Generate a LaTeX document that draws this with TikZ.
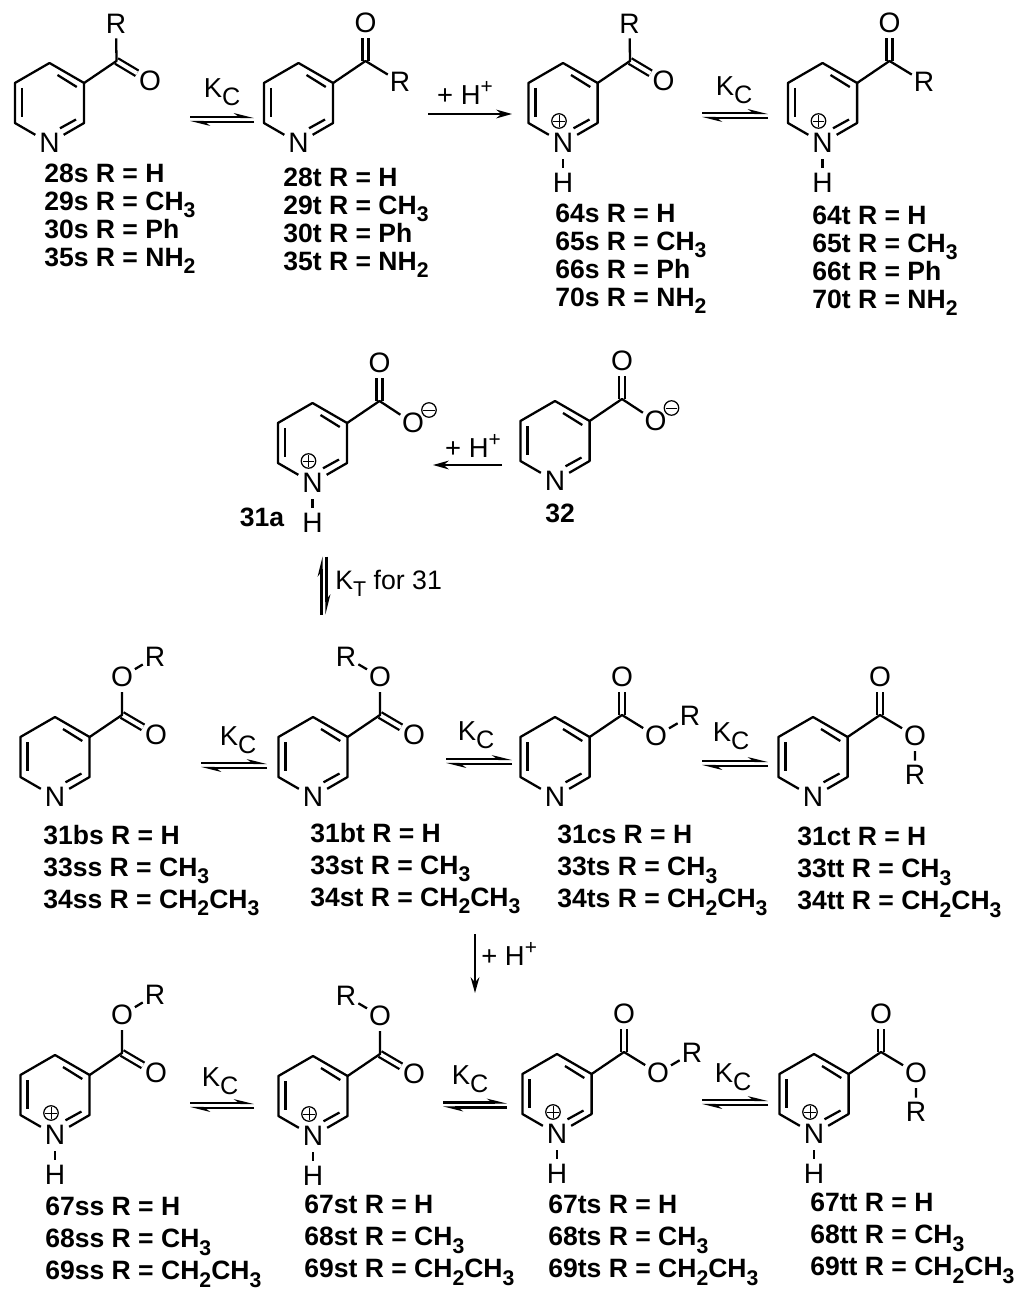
\documentclass[tikz,border=0pt]{standalone}
\usepackage{fontspec}
\setmainfont{Liberation Sans}
\usetikzlibrary{arrows.meta}
\newcommand{\down}[1]{\raisebox{-.27em}{\scalebox{.8}{#1}}}
\newcommand{\downk}[1]{\raisebox{-.3em}{\scalebox{.92}{#1}}}
\newcommand{\up}[1]{\raisebox{.42em}{\scalebox{.76}{#1}}}
\tikzset{bond/.style={line width=1.3pt, line join=round}}
\tikzset{dbl/.style={line width=1.3pt, double, double distance=2.2pt}}
\tikzset{atom/.style={circle, inner sep=0pt, minimum size=.48cm, font=\fontsize{16}{18}\selectfont}}
\tikzset{atomn/.style={atom, minimum size=.64cm}}
\tikzset{atomh/.style={atom, minimum size=.6cm}}
\tikzset{txt/.style={inner sep=0pt, font=\fontsize{15.6}{18}\selectfont}}
\tikzset{txts/.style={inner sep=0pt, font=\fontsize{15.2}{18}\selectfont}}
\tikzset{lbl/.style={inner sep=0pt, anchor=north west, align=left, font=\fontsize{15.1}{15.9}\selectfont\bfseries}}
\tikzset{lblw/.style={lbl, font=\fontsize{15.1}{18.2}\selectfont\bfseries}}
\tikzset{num/.style={inner sep=0pt, font=\fontsize{15.1}{16}\selectfont\bfseries}}
\tikzset{oa/.style={draw, circle, line width=.7pt, inner sep=0pt, minimum size=.29cm, append after command={
[line width=.7pt, shorten >=1.2pt, shorten <=1.2pt]
(\tikzlastnode.north) edge (\tikzlastnode.south)
(\tikzlastnode.east) edge (\tikzlastnode.west)
} } }
\tikzset{om/.style={draw, circle, line width=.7pt, inner sep=0pt, minimum size=.29cm, append after command={
[line width=.7pt, shorten >=1.2pt, shorten <=1.2pt]
(\tikzlastnode.east) edge (\tikzlastnode.west)
} } }
\tikzset{rxn/.style={line width=1.2pt, -{Stealth[length=9pt, width=5pt]}}}
\tikzset{half/.style={line width=1.2pt, -{Stealth[harpoon, length=9pt, width=4.4pt]}}}
% pyridine skeleton, N is drawn by the two pics below
\tikzset{pics/hex/.style={code={
	\coordinate (-c2) at (34.6,20);
	\coordinate (-c3) at (34.6,-20);
	\coordinate (-c4) at (0,-40);
	\coordinate (-c5) at (-34.6,-20);
	\coordinate (-c6) at (-34.6,20);
	\draw [bond] (-n) -- (-c2) -- (-c3) -- (-c4) -- (-c5) -- (-c6) -- (-n);
	\draw [bond] (-27.6,-15) -- (-27.6,14);
	\draw [bond] (8,-28) -- (27.3,-16);
	\draw [bond] (10.5,25.3) -- (26.5,16.5);
}}}
\tikzset{pics/pyr/.style={code={
	\node [atomn] (-n) at (0,40) {N};
	\pic {hex};
	\pic {#1};
}}}
\tikzset{pics/pyrh/.style={code={
	\node [atomn] (-n) at (0,40) {N};
	\node [atomh] (-h) at (0,80) {H};
	\node [oa] (-p) at (-4,18) {};
	\pic {hex};
	\draw [bond] (-n) -- (-h);
	\pic {#1};
}}}
% substituents at C3
\tikzset{pics/kets/.style={code={
	\coordinate (-c) at (67,-42);
	\node [atom] (-o) at (100.5,-22) {O};
	\node [atom] (-r) at (66.5,-79) {R};
	\draw [dbl] (-c) -- (-o);
	\draw [bond] (-c3) -- (-c) -- (-r);
}}}
\tikzset{pics/kett/.style={code={
	\coordinate (-c) at (67,-42);
	\node [atom] (-o) at (67,-80) {O};
	\node [atom] (-r) at (101.5,-21) {R};
	\draw [dbl] (-c) -- (-o);
	\draw [bond] (-c3) -- (-c) -- (-r);
}}}
\tikzset{pics/coo/.style={code={
	\coordinate (-c) at (67,-42);
	\node [atom] (-o) at (67,-80) {O};
	\node [atom] (-q) at (100.5,-20) {O};
	\node [om] (-m) at (116.5,-33) {};
	\draw [dbl] (-c) -- (-o);
	\draw [bond] (-c3) -- (-c) -- (-q);
}}}
\tikzset{pics/estss/.style={code={
	\coordinate (-c) at (67,-42);
	\node [atom] (-q) at (67,-80) {O};
	\node [atom] (-o) at (101,-22) {O};
	\node [atom] (-r) at (100,-100) {R};
	\draw [dbl] (-c) -- (-o);
	\draw [bond] (-c3) -- (-c) -- (-q) -- (-r);
}}}
\tikzset{pics/estst/.style={code={
	\coordinate (-c) at (67,-42);
	\node [atom] (-q) at (67,-80) {O};
	\node [atom] (-o) at (101,-22) {O};
	\node [atom] (-r) at (33,-100) {R};
	\draw [dbl] (-c) -- (-o);
	\draw [bond] (-c3) -- (-c) -- (-q) -- (-r);
}}}
\tikzset{pics/estcs/.style={code={
	\coordinate (-c) at (67,-42);
	\node [atom] (-o) at (67,-80) {O};
	\node [atom] (-q) at (101,-21) {O};
	\node [atom] (-r) at (135,-41) {R};
	\draw [dbl] (-c) -- (-o);
	\draw [bond] (-c3) -- (-c) -- (-q) -- (-r);
}}}
\tikzset{pics/estct/.style={code={
	\coordinate (-c) at (67,-42);
	\node [atom] (-o) at (67,-80) {O};
	\node [atom] (-q) at (102,-21) {O};
	\node [atom] (-r) at (102,18) {R};
	\draw [dbl] (-c) -- (-o);
	\draw [bond] (-c3) -- (-c) -- (-q) -- (-r);
}}}
% equilibrium arrows
\tikzset{pics/eq/.style={code={
	\coordinate (-a) at (-#1,-2.5);
	\coordinate (-b) at (#1,-2.5);
	\coordinate (-d) at (#1,2.5);
	\coordinate (-e) at (-#1,2.5);
	\draw [half] (-a) -- (-b);
	\draw [half] (-d) -- (-e);
}}}
\begin{document}
\begin{tikzpicture}[x=.02cm, y=-.02cm]
	\useasboundingbox (0,0) rectangle (1024,1294);
	% first row
	\pic (a28s) at (49.5,103) {pyr=kets};
	\pic (a28t) at (298.5,103) {pyr=kett};
	\pic (a64s) at (563,103) {pyrh=kets};
	\pic (a64t) at (822.5,103) {pyrh=kett};
	\node [lbl] (l28s) at (44,164) {28s R = H\\29s R = CH\down{3}\\30s R = Ph\\35s R = NH\down{2}};
	\node [lbl] (l28t) at (283,168) {28t R = H\\29t R = CH\down{3}\\30t R = Ph\\35t R = NH\down{2}};
	\node [lbl] (l64s) at (555,204) {64s R = H\\65s R = CH\down{3}\\66s R = Ph\\70s R = NH\down{2}};
	\node [lbl] (l64t) at (812,206) {64t R = H\\65t R = CH\down{3}\\66t R = Ph\\70t R = NH\down{2}};
	\pic (e1) at (222,119.5) {eq=32};
	\node [txt] (k1) at (222,92) {K\downk{C}};
	\coordinate (h1a) at (428,114);
	\coordinate (h1b) at (512,114);
	\draw [rxn] (h1a) -- (h1b);
	\node [txt] (h1) at (465,93) {+ H\up{+}};
	\pic (e2) at (735,115.5) {eq=33};
	\node [txt] (k2) at (734,90) {K\downk{C}};
	% second row
	\pic (a31a) at (312.5,443) {pyrh=coo};
	\pic (a32) at (555,441) {pyr=coo};
	\node [num] (l31a) at (262,517) {31a};
	\node [num] (l32) at (560,513) {32};
	\coordinate (h2a) at (502,465);
	\coordinate (h2b) at (433,465);
	\draw [rxn] (h2a) -- (h2b);
	\node [txt] (h2) at (473,446) {+ H\up{+}};
	\pic [rotate=90] (e3) at (324,585.5) {eq=29};
	\node [txts, anchor=west] (kt) at (335,583) {K\down{T} for 31};
	% third row
	\pic (a31bs) at (55,757) {pyr=estss};
	\pic (a31bt) at (313,757) {pyr=estst};
	\pic (a31cs) at (555,757) {pyr=estcs};
	\pic (a31ct) at (813,757) {pyr=estct};
	\node [lblw] (l31bs) at (43,825) {31bs R = H\\33ss R = CH\down{3}\\34ss R = CH\down{2}CH\down{3}};
	\node [lblw] (l31bt) at (310,823) {31bt R = H\\33st R = CH\down{3}\\34st R = CH\down{2}CH\down{3}};
	\node [lblw] (l31cs) at (557,825) {31cs R = H\\33ts R = CH\down{3}\\34ts R = CH\down{2}CH\down{3}};
	\node [lblw] (l31ct) at (797,827) {31ct R = H\\33tt R = CH\down{3}\\34tt R = CH\down{2}CH\down{3}};
	\pic (e4) at (234,765.5) {eq=33};
	\node [txt] (k4) at (238,740) {K\downk{C}};
	\pic (e5) at (479,761.5) {eq=33};
	\node [txt] (k5) at (476,735) {K\downk{C}};
	\pic (e6) at (735,763.5) {eq=33};
	\node [txt] (k6) at (731,736) {K\downk{C}};
	\coordinate (h3a) at (475,934);
	\coordinate (h3b) at (475,993);
	\draw [rxn] (h3a) -- (h3b);
	\node [txt, anchor=west] (h3) at (481,954) {+ H\up{+}};
	% last row
	\pic (a67ss) at (55,1095) {pyrh=estss};
	\pic (a67st) at (313,1096) {pyrh=estst};
	\pic (a67ts) at (557,1094) {pyrh=estcs};
	\pic (a67tt) at (814,1094) {pyrh=estct};
	\node [lblw] (l67ss) at (45,1197) {67ss R = H\\68ss R = CH\down{3}\\69ss R = CH\down{2}CH\down{3}};
	\node [lblw] (l67st) at (304,1195) {67st R = H\\68st R = CH\down{3}\\69st R = CH\down{2}CH\down{3}};
	\node [lblw] (l67ts) at (548,1195) {67ts R = H\\68ts R = CH\down{3}\\69ts R = CH\down{2}CH\down{3}};
	\node [lblw] (l67tt) at (810,1193) {67tt R = H\\68tt R = CH\down{3}\\69tt R = CH\down{2}CH\down{3}};
	\pic (e7) at (222,1105.5) {eq=32};
	\node [txt] (k7) at (220,1081) {K\downk{C}};
	\pic (e8) at (475,1105) {eq=32};
	\node [txt] (k8) at (470,1079) {K\downk{C}};
	\pic (e9) at (735,1102.5) {eq=33};
	\node [txt] (k9) at (733,1077) {K\downk{C}};
\end{tikzpicture}
\end{document}
